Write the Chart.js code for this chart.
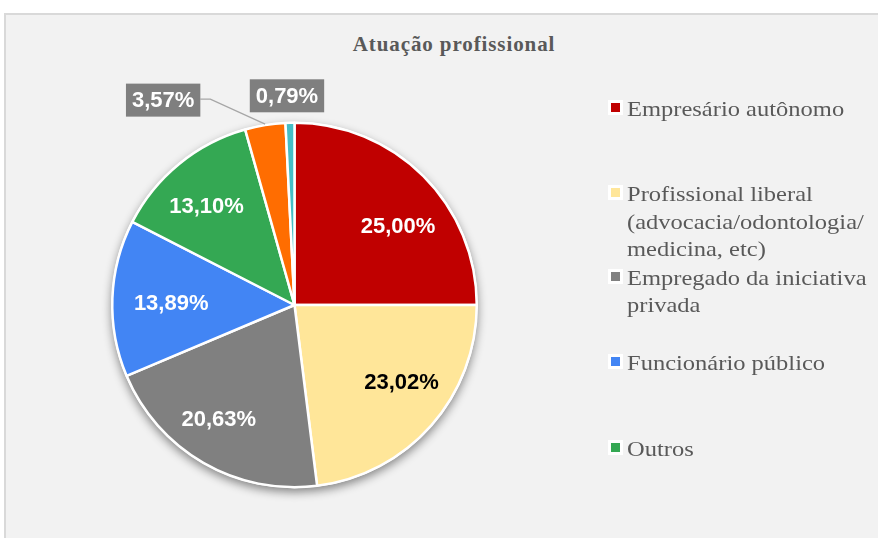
<!DOCTYPE html>
<html>
<head>
<meta charset="utf-8">
<script src="https://cdn.jsdelivr.net/npm/chart.js@4.4.1/dist/chart.umd.min.js"></script>
<style>
  html, body { margin: 0; padding: 0; background: #fff; }
  body { width: 878px; height: 538px; position: relative; overflow: hidden; }
  #frame {
    position: absolute; left: 4px; top: 13px; width: 900px; height: 560px;
    background: #f2f2f2; border-left: 2px solid #d9d9d9; border-top: 2px solid #d9d9d9;
  }
  #title {
    position: absolute; left: 4px; width: 900px; top: 32px; text-align: center;
    font: bold 21px "Liberation Serif", "Times New Roman", serif;
    letter-spacing: 0.9px; color: #595959;
  }
  #chart { position: absolute; left: 0; top: 0; }
  .entry {
    position: absolute; left: 608px;
    font: 21.5px "Liberation Serif", "Times New Roman", serif;
    line-height: 27.5px; color: #595959;
  }
  .entry .box {
    position: absolute; left: 0; top: 4px; width: 9px; height: 9px;
    border: 3px solid #fff;
  }
  .entry .txt {
    margin-left: 19px; white-space: nowrap;
    transform: scaleX(1.14); transform-origin: 0 0;
  }
</style>
</head>
<body>
<div id="frame"></div>
<div id="title">Atuação profissional</div>
<canvas id="chart" width="878" height="538"></canvas>
<div id="legend"></div>
<script>
document.addEventListener("DOMContentLoaded", () => {
  const canvas = document.getElementById("chart");
  const ctx = canvas.getContext("2d");

  const categories = [
    'Empresário autônomo',
    'Profissional liberal (advocacia/odontologia/ medicina, etc)',
    'Empregado da iniciativa privada',
    'Funcionário público',
    'Outros',
    'Outro (a)',
    'Não informado'
  ];
  // wrapped lines as shown in the legend (only the first five are listed there)
  const legendLines = [
    ['Empresário autônomo'],
    ['Profissional liberal', '(advocacia/odontologia/', 'medicina, etc)'],
    ['Empregado da iniciativa', 'privada'],
    ['Funcionário público'],
    ['Outros']
  ];
  const shares = [25.00, 23.02, 20.63, 13.89, 13.10, 3.57, 0.79];

  const colors = ['#c00000', '#ffe699', '#808080', '#4285f4', '#34a853', '#ff6d01', '#46bdc6'];
  const labelInk = ['#fff', '#000', '#fff', '#fff', '#fff', '#fff', '#fff'];
  const legendTops = [96, 181, 264.5, 349.5, 436];
  // small shifts of the inside labels, like the spreadsheet's best-fit placement
  const labelNudge = [[12, 13], [10, -8], [-11, 3], [6, 4], [-6, 2]];
  // callout boxes for the thin slices, relative to the outer edge of the slice
  const callouts = { 5: { dx: -102, dy: -25, leader: true }, 6: { dx: -3, dy: -27, leader: false } };

  const legend = document.getElementById("legend");
  legendLines.forEach((lines, i) => {
    const el = document.createElement("div");
    el.className = "entry";
    el.style.top = legendTops[i] + "px";
    el.innerHTML = '<div class="box" style="background:' + colors[i] + '"></div>' +
      '<div class="txt">' + lines.join('<br>') + '</div>';
    legend.appendChild(el);
  });

  const fmt = (v) => v.toFixed(2).replace('.', ',') + '%';

  const pieShadow = {
    id: 'pieShadow',
    beforeDatasetsDraw(chart) {
      const arc = chart.getDatasetMeta(0).data[0];
      if (!arc) return;
      const c = chart.ctx;
      c.save();
      c.shadowColor = 'rgba(0,0,0,0.45)';
      c.shadowBlur = 10;
      c.shadowOffsetY = 4;
      c.fillStyle = '#fff';
      c.beginPath();
      c.arc(arc.x, arc.y, arc.outerRadius + 1, 0, Math.PI * 2);
      c.fill();
      c.restore();
    }
  };

  const sliceLabels = {
    id: 'sliceLabels',
    afterDatasetsDraw(chart) {
      const c = chart.ctx;
      const meta = chart.getDatasetMeta(0);
      c.save();
      c.font = 'bold 22px "Liberation Sans", Arial, sans-serif';
      c.textAlign = 'center';
      c.textBaseline = 'middle';
      meta.data.forEach((arc, i) => {
        const mid = (arc.startAngle + arc.endAngle) / 2;
        const text = fmt(shares[i]);
        const co = callouts[i];
        if (!co) {
          const r = arc.outerRadius * 0.71;
          const [nx, ny] = labelNudge[i] || [0, 0];
          c.fillStyle = labelInk[i];
          c.fillText(text, arc.x + r * Math.cos(mid) + nx, arc.y + r * Math.sin(mid) + ny);
          return;
        }
        const ex = arc.x + arc.outerRadius * Math.cos(mid);
        const ey = arc.y + arc.outerRadius * Math.sin(mid);
        const bx = ex + co.dx, by = ey + co.dy;
        const w = c.measureText(text).width + 12, h = 33;
        if (co.leader) {
          c.strokeStyle = '#a6a6a6';
          c.lineWidth = 1.3;
          c.beginPath();
          c.moveTo(bx + w / 2, by - 1);
          c.lineTo(bx + w / 2 + 10, by - 1);
          c.lineTo(ex, ey - 1);
          c.stroke();
        }
        c.fillStyle = '#7f7f7f';
        c.fillRect(bx - w / 2, by - h / 2, w, h);
        c.fillStyle = labelInk[i];
        c.fillText(text, bx, by + 1);
      });
      c.restore();
    }
  };

  new Chart(ctx, {
    type: 'pie',
    data: {
      labels: categories,
      datasets: [{
        data: shares,
        backgroundColor: colors,
        borderColor: '#ffffff',
        borderWidth: 2.5
      }]
    },
    options: {
      responsive: false,
      animation: false,
      layout: { padding: { left: 111, top: 121, right: 400, bottom: 49 } },
      plugins: {
        legend: { display: false },
        tooltip: { enabled: false }
      }
    },
    plugins: [pieShadow, sliceLabels]
  });
});
</script>
</body>
</html>
